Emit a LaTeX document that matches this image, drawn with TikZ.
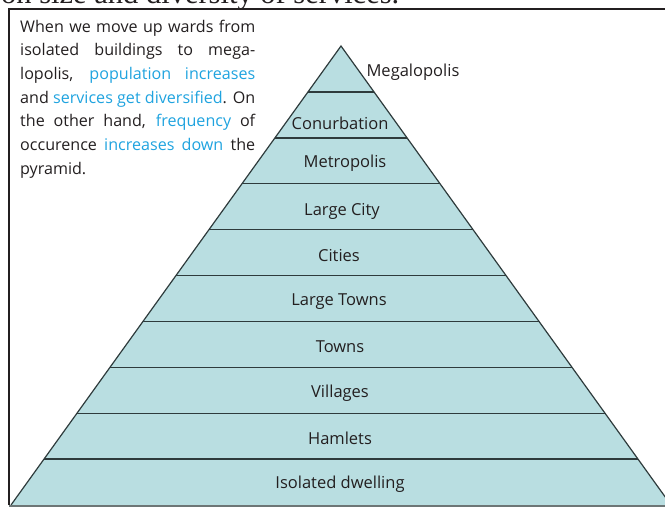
\documentclass[tikz,border=0pt]{standalone}
\usepackage{fontspec}
\setmainfont{Open Sans}
\newfontfamily\headfont{Liberation Serif}
\definecolor{pyrfill}{HTML}{B9DEE1}
\definecolor{pyrline}{HTML}{2E3B3C}
\definecolor{txtblue}{HTML}{1FA3DF}
\definecolor{txtdark}{HTML}{231F20}
\begin{document}
\begin{tikzpicture}[x=1pt,y=-1pt,
  lbl/.style={font=\fontsize{16.5}{20}\selectfont, text=txtdark, inner sep=0pt, anchor=base},
  band/.style={draw=pyrline, line width=1.4pt}]
\useasboundingbox (0,0) rectangle (665,507);
\begin{scope}
\clip (0,0) rectangle (665,507);
% cropped heading
\node[anchor=base west, inner sep=0pt, font=\headfont\fontsize{30.5}{33}\selectfont, text=txtdark] (head) at (1,3) {on size and diversity of services.};
% frame
\draw[line width=1.3pt, draw=txtdark] (9,505) -- (9,9) -- (700,9);
% pyramid
\coordinate (apex) at (341,46);
\coordinate (bl) at (11,505);
\coordinate (br) at (671,505);
\fill[pyrfill] (apex) -- (bl) -- (br) -- cycle;
\foreach \k in {1,...,9} {
  \pgfmathsetmacro{\yy}{46+45.9*\k}
  \pgfmathsetmacro{\hw}{0.7185*45.9*\k}
  \draw[band] (341-\hw,\yy) -- (341+\hw,\yy);
}
\draw[draw=pyrline, line width=1.2pt, line join=miter] (bl) -- (apex) -- (br);
\draw[draw=pyrline!70, line width=2pt] (9,505.5) -- (700,505.5);
\end{scope}
% paragraph
\node[anchor=north west, inner sep=0pt, text width=235pt, align=justify,
  font=\fontsize{16.1}{23.7}\selectfont, text=txtdark] (para) at (20,19.5)
  {\hbadness=10000 \hfuzz=10pt
   When we move up wards from\linebreak
   isolated buildings to mega-\linebreak
   lopolis, \textcolor{txtblue}{population increases}\linebreak
   and \textcolor{txtblue}{services get diversified}. On\linebreak
   the other hand, \textcolor{txtblue}{frequency} of\linebreak
   occurence \textcolor{txtblue}{increases down} the\linebreak
   pyramid.};
% labels
\node[lbl] (megalopolis) at (413,76) {Megalopolis};
\node[lbl] (conurbation) at (340,129) {Conurbation};
\node[lbl] (metropolis) at (345,167) {Metropolis};
\node[lbl] (largecity) at (342,215) {Large City};
\node[lbl] (cities) at (339,261) {Cities};
\node[lbl] (largetowns) at (339,305) {Large Towns};
\node[lbl] (towns) at (340,352) {Towns};
\node[lbl] (villages) at (340,397) {Villages};
\node[lbl] (hamlets) at (340,444) {Hamlets};
\node[lbl] (isolated) at (340,488) {Isolated dwelling};
\end{tikzpicture}
\end{document}
